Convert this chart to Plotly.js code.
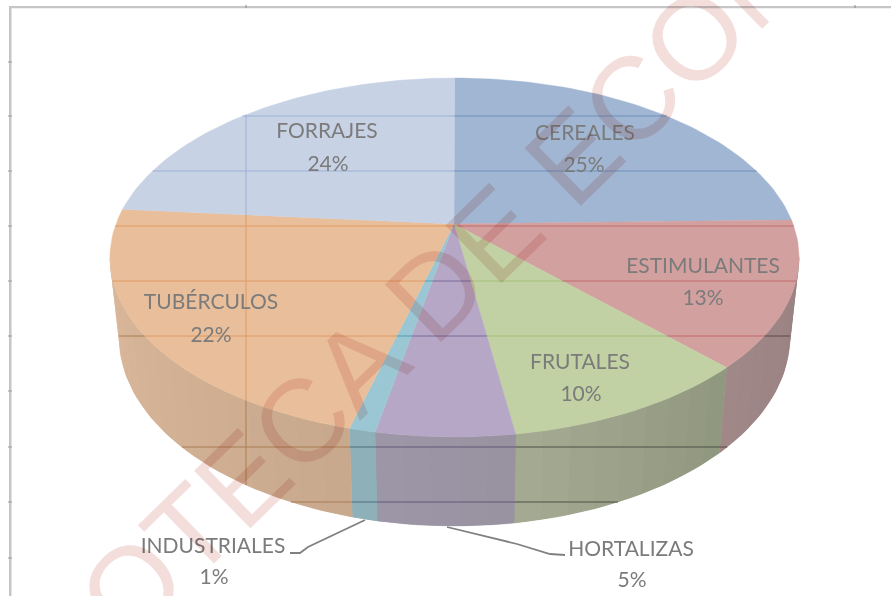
<!DOCTYPE html>
<html>
<head>
<meta charset="utf-8">
<script src="https://cdn.plot.ly/plotly-3.0.1.min.js"></script>
<style>
html,body{margin:0;padding:0;background:#fff;}
#chart{width:891px;height:596px;}
#chart svg.main-svg{mix-blend-mode:multiply;}
</style>
</head>
<body>
<div id="chart"></div>
<script>
// ---- data ----
const categories = ['CEREALES','ESTIMULANTES','FRUTALES','HORTALIZAS','INDUSTRIALES','TUBÉRCULOS','FORRAJES'];
const shares = [25,13,9.7,5.3,1,22,24];
const shareLabels = ['25%','13%','10%','5%','1%','22%','24%'];
// ---- styles ----
const topColors  = ['#a1b6d2','#d3a0a0','#c1d1a3','#b5a7c5','#9bc7d4','#e9bf9b','#c7d2e5'];
const sideLeft   = ['#a1b6d2','#a08888','#a5aa92','#9d96a8','#90b3bc','#dcb99b','#c7d2e5'];
const sideRight  = ['#a1b6d2','#998181','#90977f','#98919f','#8aadb5','#c8a88d','#c7d2e5'];
const lineTop    = ['#6f90bb','#c06a6a','#a3bf78','#7b6b9b','#4f9fb2','#e09a63','#9db2d6'];
const lineSide   = ['#5a6a80','#5c4848','#4c5044','#625878','#4d6f7a','#a87c52','#8090a8'];
// ---- geometry of the tilted disc, in plot units ----
const cx = 454.5, persp = 0.2089;
const apex = [454,224];
const topDisc = {r:337, a:-125.7, b:220};
const botDisc = {r:328, a:-118.5, b:297.6};
const hLines = [116,171,226,281,336,447,502];
const vLineX = 246;
const labelX = [585,703,580,631,213,211,327];
const labelY = [134.5,267.5,363.5,550.5,547.5,303.5,132.5];
const pctY   = [167,300,396,582,579,337,166];
const pctX   = [584,703,581,632,214,211,328];
const leaderA = {x:[290,300,308,365], y:[553,553,547,520]};
const leaderB = {x:[447,517,550,565], y:[527,544,554,555]};
const frameTicksY = [62,116,171,226,281,336,391,447,502,558];
const frameTicksX = [246,855];

function project(d, deg){
  const t = deg*Math.PI/180, u = Math.sin(t), v = Math.cos(t), w = persp*v+1;
  return [cx + d.r*u/w, (d.a*v+d.b)/w];
}
function arc(d, from, to){
  const pts = [], n = Math.max(2, Math.ceil(Math.abs(to-from)/1.5));
  for(let i=0;i<=n;i++) pts.push(project(d, from+(to-from)*i/n));
  return pts;
}
function poly(pts, color, lw){
  const xs = pts.map(p=>p[0]).concat(pts[0][0]), ys = pts.map(p=>p[1]).concat(pts[0][1]);
  return {type:'scatter',mode:'lines',x:xs,y:ys,fill:'toself',fillcolor:color,
    line:{color:color,width:lw||0},hoverinfo:'skip',showlegend:false};
}
function mix(c1,c2,f){
  const h=s=>[1,3,5].map(i=>parseInt(s.substr(i,2),16));
  const a=h(c1),b=h(c2);
  return 'rgb('+a.map((v,i)=>Math.round(v+(b[i]-v)*f)).join(',')+')';
}
// crossings of a polygon with a horizontal (axis=1) or vertical (axis=0) line
function scan(pts, axis, val){
  const c=[];
  for(let i=0;i<pts.length;i++){
    const p=pts[i], q=pts[(i+1)%pts.length];
    if((p[axis]<val)!==(q[axis]<val)){
      c.push(p[1-axis]+(q[1-axis]-p[1-axis])*(val-p[axis])/(q[axis]-p[axis]));
    }
  }
  return c.sort((a,b)=>a-b);
}
function segments(pts, color, w){
  const xs=[],ys=[];
  hLines.forEach(y=>{const c=scan(pts,1,y);for(let i=0;i+1<c.length;i+=2){xs.push(c[i],c[i+1],null);ys.push(y,y,null);}});
  const c=scan(pts,0,vLineX);
  for(let i=0;i+1<c.length;i+=2){xs.push(vLineX,vLineX,null);ys.push(c[i],c[i+1],null);}
  return {type:'scatter',mode:'lines',x:xs,y:ys,line:{color:color,width:1},hoverinfo:'skip',showlegend:false,connectgaps:false};
}

const traces = [];
const sideA = Math.acos(-persp)*180/Math.PI, sideB = 360-sideA;
let cum = 0;
const spans = shares.map(s=>{const r=[cum*3.6,(cum+s)*3.6];cum+=s;return r;});
// side wall: a solid base per slice, then shaded bands over it
spans.forEach((sp,i)=>{
  const a=Math.max(sp[0],sideA), b=Math.min(sp[1],sideB);
  if(b<=a) return;
  traces.push(poly(arc(topDisc,a,b).concat(arc(botDisc,b,a)), mix(sideRight[i],sideLeft[i],0.5), 0.4));
  const n=Math.max(1,Math.round((b-a)/4));
  for(let k=0;k<n;k++){
    const t0=a+(b-a)*k/n, t1=a+(b-a)*(k+1)/n;
    const q=arc(topDisc,t0,t1).concat(arc(botDisc,t1,t0));
    const pos=(k+0.5)/n;
    traces.push(poly(q, mix(sideRight[i],sideLeft[i],pos), 0));
  }
});
// top faces
spans.forEach((sp,i)=>{
  const q=[apex].concat(arc(topDisc,sp[0],sp[1]));
  traces.push(poly(q, topColors[i], 0.4));
});
// sheet grid seen through the chart
spans.forEach((sp,i)=>{
  const a=Math.max(sp[0],sideA), b=Math.min(sp[1],sideB);
  if(b>a) traces.push(segments(arc(topDisc,a,b).concat(arc(botDisc,b,a)), lineSide[i]));
  traces.push(segments([apex].concat(arc(topDisc,sp[0],sp[1])), lineTop[i]));
});
// leaders
[leaderA,leaderB].forEach(l=>traces.push({type:'scatter',mode:'lines',x:l.x,y:l.y,
  line:{color:'#808080',width:1.8},hoverinfo:'skip',showlegend:false}));
// labels
const txtFont={family:'Lato, "Open Sans", sans-serif',size:21,color:'#7b7b7b'};
traces.push({type:'scatter',mode:'text',x:labelX,y:labelY,text:categories,textposition:'middle center',
  textfont:txtFont,hoverinfo:'skip',showlegend:false,cliponaxis:false});
traces.push({type:'scatter',mode:'text',x:pctX,y:pctY,text:shareLabels,textposition:'middle center',
  textfont:txtFont,hoverinfo:'skip',showlegend:false,cliponaxis:false});

const shapes=[
 {type:'rect',xref:'x',yref:'y',x0:9,x1:11.5,y0:6,y1:596,fillcolor:'#c6c6c6',line:{width:0},layer:'below'},
 {type:'rect',xref:'x',yref:'y',x0:9,x1:891,y0:6,y1:8.2,fillcolor:'#c6c6c6',line:{width:0},layer:'below'}
];
frameTicksY.forEach(y=>shapes.push({type:'line',x0:8,x1:12,y0:y,y1:y,line:{color:'#9a9a9a',width:1},layer:'below'}));
frameTicksX.forEach(x=>shapes.push({type:'line',x0:x,x1:x,y0:5,y1:8,line:{color:'#8a8a8a',width:1},layer:'below'}));

const layout={
  width:891,height:596,margin:{l:0,r:0,t:0,b:0},showlegend:false,
  paper_bgcolor:'#ffffff',plot_bgcolor:'#ffffff',
  xaxis:{range:[0,891],visible:false,fixedrange:true},
  yaxis:{range:[596,0],visible:false,fixedrange:true},
  shapes:shapes,
  annotations:[{x:447,y:279,xref:'x',yref:'y',showarrow:false,text:'BIBLIOTECA DE ECONOMIA',textangle:-44.3,
    font:{family:'"Liberation Sans", Arial, sans-serif',size:117,color:'#f3dedc'},xanchor:'center',yanchor:'middle'}]
};
Plotly.newPlot('chart',traces,layout,{displayModeBar:false,staticPlot:true});
</script>
</body>
</html>
